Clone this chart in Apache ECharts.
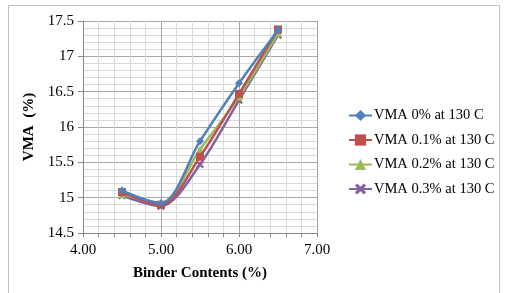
<!DOCTYPE html>
<html><head><meta charset="utf-8">
<script src="https://cdn.jsdelivr.net/npm/echarts@6/dist/echarts.min.js"></script>
<style>html,body{margin:0;padding:0;background:#fff}#c{width:506px;height:293px}</style>
</head><body><div id="c"></div>
<script>
const binder = [4.5, 5.0, 5.5, 6.0, 6.5];
const vma0 = [15.10, 14.92, 15.80, 16.62, 17.37];
const vma01 = [15.08, 14.90, 15.58, 16.47, 17.38];
const vma02 = [15.05, 14.93, 15.68, 16.43, 17.33];
const vma03 = [15.03, 14.88, 15.47, 16.38, 17.30];
const names = ['VMA 0% at 130 C','VMA 0.1% at 130 C','VMA 0.2% at 130 C','VMA 0.3% at 130 C'];
const colors = ['#4F81BD','#C0504D','#9BBB59','#8064A2'];
const xPath = 'path://M0,2 L2,0 L5,3 L8,0 L10,2 L7,5 L10,8 L8,10 L5,7 L2,10 L0,8 L3,5 Z';
const symbols = ['diamond','rect','triangle',xPath];
const sizes = [8,8,8,8];
const data = [vma0, vma01, vma02, vma03];
const font = 'Liberation Serif';
const chart = echarts.init(document.getElementById('c'));
chart.setOption({
  animation:false,
  textStyle:{fontFamily:font},
  graphic:[{type:'rect',shape:{x:8.5,y:5.5,width:491,height:300},style:{fill:'none',stroke:'#bfbfbf',lineWidth:1},z:-1}],
  grid:{left:83,right:189,top:21,bottom:60},
  legend:{orient:'vertical',left:343,top:103,itemGap:9.5,itemWidth:23,itemHeight:14,
    textStyle:{fontFamily:font,fontSize:14.5,color:'#000',padding:[0,0,0,-3]},
    data:names},
  xAxis:{type:'value',min:4,max:7,interval:1,
    name:'Binder Contents (%)',nameLocation:'middle',nameGap:33,
    nameTextStyle:{fontFamily:font,fontSize:15,fontWeight:'bold',color:'#000'},
    axisLine:{lineStyle:{color:'#868686'}},
    axisTick:{show:true,length:4,lineStyle:{color:'#868686'}},
    minorTick:{show:true,splitNumber:5,length:4,lineStyle:{color:'#868686'}},
    axisLabel:{formatter:v=>v.toFixed(2),fontFamily:font,fontSize:15,color:'#000',margin:10},
    splitLine:{show:true,lineStyle:{color:'#a6a6a6'}},
    minorSplitLine:{show:true,lineStyle:{color:'#d9d9d9'}}},
  yAxis:{type:'value',min:14.5,max:17.5,interval:0.5,
    name:'VMA  (%)',nameLocation:'middle',nameGap:46,
    nameTextStyle:{fontFamily:font,fontSize:15,fontWeight:'bold',color:'#000'},
    axisLine:{show:true,lineStyle:{color:'#868686'}},
    axisTick:{show:true,length:5,lineStyle:{color:'#868686'}},
    axisLabel:{fontFamily:font,fontSize:15,color:'#000',margin:9},
    splitLine:{show:true,lineStyle:{color:'#a6a6a6'}},
    minorTick:{show:false,splitNumber:5},
    minorSplitLine:{show:true,lineStyle:{color:'#d9d9d9'}}},
  series:data.map((d,i)=>({
    name:names[i],type:'line',smooth:0.3,
    data:binder.map((x,j)=>[x,d[j]]),
    symbol:symbols[i],symbolSize:sizes[i],showSymbol:true,
    lineStyle:{color:colors[i],width:2.5},
    itemStyle:{color:colors[i]},
    z:10-i
  }))
});
</script></body></html>
